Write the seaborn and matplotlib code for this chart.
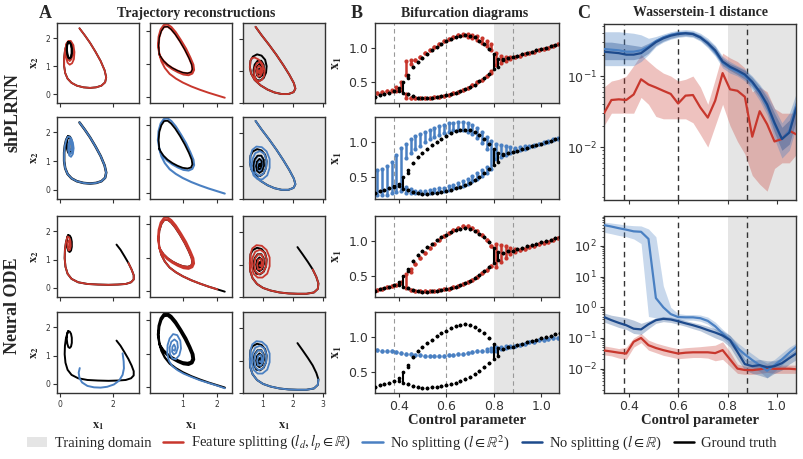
import numpy as np
import pandas as pd
import seaborn as sns
import matplotlib
matplotlib.use("Agg")
import matplotlib.pyplot as plt
from matplotlib.patches import Patch
from matplotlib.lines import Line2D

# -----------------------------
# colours / fonts
# -----------------------------
RED = "#c8372d"
BLUE = "#4a80c2"
NAVY = "#1d4a8c"
GT = "black"
SHADE = "#e5e5e5"
SERIF = "Liberation Serif"

# -----------------------------
# Panel A: trajectories (x1, x2)
# -----------------------------
# column 1 (small limit cycle)
gt_c1_a_x = [0.75, 0.95, 1.15, 1.35, 1.55, 1.70, 1.76, 1.72, 1.58, 1.38, 1.15, 0.90, 0.65, 0.45, 0.30, 0.21, 0.17, 0.17, 0.20, 0.25, 0.32]
gt_c1_a_y = [2.35, 2.10, 1.83, 1.52, 1.18, 0.85, 0.60, 0.42, 0.30, 0.24, 0.22, 0.24, 0.30, 0.40, 0.55, 0.75, 1.00, 1.30, 1.55, 1.75, 1.86]
gt_c1_b_x = [2.15, 2.30, 2.45, 2.60, 2.72, 2.80, 2.80, 2.70, 2.50, 2.20, 1.85, 1.45, 1.05, 0.70, 0.45, 0.30, 0.22, 0.19, 0.20, 0.24, 0.30]
gt_c1_b_y = [1.53, 1.35, 1.12, 0.88, 0.65, 0.45, 0.30, 0.20, 0.14, 0.12, 0.11, 0.12, 0.14, 0.20, 0.32, 0.50, 0.75, 1.05, 1.35, 1.62, 1.82]
gt_c1_cyc_x = [0.32, 0.38, 0.43, 0.46, 0.46, 0.43, 0.38, 0.33, 0.29, 0.27, 0.28, 0.32]
gt_c1_cyc_y = [1.86, 1.85, 1.77, 1.63, 1.45, 1.32, 1.27, 1.30, 1.42, 1.58, 1.75, 1.86]
red_c1_loops_x = [0.32, 0.42, 0.52, 0.56, 0.54, 0.47, 0.38, 0.30, 0.24, 0.22, 0.25, 0.33, 0.42, 0.49, 0.50, 0.45, 0.38, 0.31, 0.27, 0.27, 0.31]
red_c1_loops_y = [1.86, 1.90, 1.75, 1.50, 1.25, 1.10, 1.05, 1.12, 1.30, 1.55, 1.80, 1.90, 1.86, 1.70, 1.45, 1.25, 1.18, 1.25, 1.45, 1.68, 1.84]
blue_c1_spiral_x = [0.32, 0.42, 0.50, 0.53, 0.50, 0.43, 0.36, 0.32, 0.33, 0.39, 0.46, 0.49, 0.46, 0.40, 0.36, 0.37, 0.42, 0.46, 0.45, 0.41]
blue_c1_spiral_y = [1.86, 1.82, 1.65, 1.45, 1.25, 1.15, 1.20, 1.38, 1.60, 1.75, 1.68, 1.48, 1.30, 1.25, 1.35, 1.55, 1.65, 1.55, 1.40, 1.38]
red_c1_small_x = [0.30, 0.36, 0.41, 0.42, 0.39, 0.34, 0.31, 0.31, 0.35, 0.39, 0.38, 0.35]
red_c1_small_y = [1.82, 1.78, 1.65, 1.48, 1.35, 1.32, 1.42, 1.60, 1.68, 1.58, 1.45, 1.43]
blue_c1_arc_x = [0.76, 0.72, 0.75, 0.85, 1.05, 1.30, 1.55, 1.80, 2.05, 2.25, 2.38, 2.43, 2.42, 2.38]
blue_c1_arc_y = [0.56, 0.40, 0.20, 0.05, -0.07, -0.12, -0.13, -0.10, -0.02, 0.12, 0.32, 0.55, 0.80, 1.08]

# column 2 (large limit cycle)
gt_c2_a_x = [2.22, 2.00, 1.75, 1.50, 1.25, 1.00, 0.80, 0.62, 0.48, 0.38, 0.32]
gt_c2_a_y = [-0.02, 0.05, 0.13, 0.22, 0.32, 0.44, 0.56, 0.70, 0.88, 1.08, 1.30]
gt_c2_cyc_x = [0.32, 0.30, 0.32, 0.38, 0.46, 0.56, 0.66, 0.78, 0.92, 1.06, 1.18, 1.26, 1.28, 1.24, 1.14, 1.00, 0.85, 0.70, 0.56, 0.44, 0.36, 0.32]
gt_c2_cyc_y = [1.30, 1.55, 1.80, 2.00, 2.12, 2.13, 2.05, 1.90, 1.68, 1.43, 1.18, 0.98, 0.84, 0.75, 0.72, 0.74, 0.80, 0.88, 0.98, 1.10, 1.22, 1.30]
model_c2_loop_x = [0.32, 0.28, 0.30, 0.36, 0.45, 0.56, 0.67, 0.80, 0.95, 1.10, 1.22, 1.31, 1.33, 1.28, 1.17, 1.02, 0.86, 0.70, 0.55, 0.43, 0.35, 0.32]
model_c2_loop_y = [1.30, 1.56, 1.83, 2.05, 2.18, 2.20, 2.12, 1.96, 1.72, 1.46, 1.20, 0.98, 0.82, 0.71, 0.66, 0.68, 0.75, 0.84, 0.95, 1.08, 1.21, 1.30]
blue_c2_spiral_x = [2.22, 2.00, 1.75, 1.50, 1.25, 1.02, 0.85, 0.70, 0.60, 0.55, 0.56, 0.62, 0.72, 0.84, 0.93, 0.95, 0.90,
                    0.80, 0.70, 0.63, 0.62, 0.67, 0.76, 0.84, 0.86, 0.81, 0.74, 0.69, 0.70, 0.75, 0.79, 0.77, 0.73]
blue_c2_spiral_y = [-0.04, 0.04, 0.12, 0.20, 0.30, 0.40, 0.50, 0.62, 0.78, 1.00, 1.25, 1.45, 1.58, 1.55, 1.38, 1.15, 0.95,
                    0.83, 0.85, 0.98, 1.18, 1.35, 1.42, 1.35, 1.18, 1.02, 0.97, 1.05, 1.20, 1.27, 1.18, 1.08, 1.10]

# column 3 (stable spiral, training domain)
gt_c3_a_x = [0.75, 0.95, 1.20, 1.45, 1.68, 1.88, 2.03, 2.08, 2.02, 1.85, 1.62, 1.38, 1.15, 0.92, 0.72, 0.60, 0.56, 0.58]
gt_c3_a_y = [2.38, 2.12, 1.82, 1.50, 1.18, 0.88, 0.62, 0.45, 0.34, 0.28, 0.28, 0.33, 0.42, 0.55, 0.72, 0.92, 1.12, 1.32]
gt_c3_b_x = [2.15, 2.32, 2.50, 2.66, 2.78, 2.85, 2.83, 2.70, 2.45, 2.15, 1.85, 1.55, 1.25, 1.00, 0.80, 0.65, 0.57, 0.56, 0.58]
gt_c3_b_y = [1.54, 1.32, 1.08, 0.85, 0.62, 0.42, 0.25, 0.14, 0.10, 0.10, 0.11, 0.14, 0.20, 0.28, 0.40, 0.58, 0.80, 1.05, 1.32]
gt_c3_sp_x = [0.58, 0.66, 0.80, 0.95, 1.07, 1.12, 1.10, 1.02, 0.90, 0.78, 0.70, 0.68, 0.72, 0.82, 0.94, 1.02,
              1.03, 0.97, 0.88, 0.80, 0.77, 0.80, 0.88, 0.95, 0.96, 0.92, 0.86, 0.84, 0.87, 0.91, 0.91, 0.89]
gt_c3_sp_y = [1.32, 1.45, 1.52, 1.48, 1.35, 1.15, 0.95, 0.78, 0.70, 0.72, 0.85, 1.02, 1.20, 1.32, 1.32, 1.20,
              1.02, 0.86, 0.80, 0.86, 1.00, 1.14, 1.22, 1.16, 1.04, 0.93, 0.90, 0.97, 1.07, 1.08, 1.01, 0.99]
red_c3_sp_x = [0.58, 0.62, 0.72, 0.85, 0.98, 1.05, 1.04, 0.96, 0.85, 0.75, 0.70, 0.72, 0.80, 0.91,
               0.98, 0.98, 0.92, 0.84, 0.79, 0.80, 0.86, 0.92, 0.93, 0.89, 0.85, 0.86, 0.89]
red_c3_sp_y = [1.32, 1.40, 1.42, 1.36, 1.22, 1.02, 0.85, 0.72, 0.68, 0.74, 0.90, 1.10, 1.25, 1.28,
               1.15, 0.98, 0.85, 0.82, 0.92, 1.08, 1.17, 1.10, 0.98, 0.91, 0.95, 1.03, 1.00]
wide_c3_sp_x = [0.58, 0.64, 0.78, 0.96, 1.12, 1.22, 1.22, 1.14, 0.98, 0.82, 0.68, 0.62, 0.64, 0.74, 0.90, 1.04, 1.12, 1.10,
                1.00, 0.86, 0.74, 0.70, 0.74, 0.84, 0.96, 1.02, 1.00, 0.92, 0.83, 0.80, 0.84, 0.92, 0.96, 0.93, 0.88]
wide_c3_sp_y = [1.32, 1.50, 1.60, 1.58, 1.45, 1.22, 0.95, 0.72, 0.60, 0.60, 0.72, 0.95, 1.20, 1.40, 1.46, 1.38, 1.18, 0.94,
                0.76, 0.70, 0.80, 1.00, 1.20, 1.32, 1.30, 1.15, 0.96, 0.84, 0.86, 1.00, 1.15, 1.18, 1.06, 0.95, 0.98]

# -----------------------------
# Panel B: bifurcation diagrams, (control parameter, min x1, max x1)
# -----------------------------
gt_bif = [(0.30, 0.28, 0.28), (0.32, 0.30, 0.30), (0.34, 0.32, 0.32), (0.36, 0.34, 0.34), (0.38, 0.36, 0.37),
          (0.40, 0.37, 0.41), (0.42, 0.33, 0.50),
          (0.44, 0.56, 0.60), (0.46, 0.71, 0.71), (0.48, 0.79, 0.79), (0.50, 0.85, 0.85), (0.52, 0.91, 0.91),
          (0.54, 0.96, 0.96), (0.56, 1.01, 1.01), (0.58, 1.05, 1.05), (0.60, 1.09, 1.09), (0.62, 1.13, 1.13),
          (0.64, 1.16, 1.16), (0.66, 1.17, 1.17), (0.68, 1.18, 1.18), (0.70, 1.17, 1.17), (0.72, 1.15, 1.15),
          (0.74, 1.10, 1.10), (0.76, 1.05, 1.05), (0.78, 0.98, 0.98),
          (0.44, 0.32, 0.32), (0.46, 0.29, 0.29), (0.48, 0.27, 0.27), (0.50, 0.26, 0.26), (0.52, 0.26, 0.26),
          (0.54, 0.27, 0.27), (0.56, 0.28, 0.28), (0.58, 0.29, 0.29), (0.60, 0.30, 0.30), (0.62, 0.32, 0.32),
          (0.64, 0.34, 0.34), (0.66, 0.36, 0.36), (0.68, 0.39, 0.39), (0.70, 0.42, 0.42), (0.72, 0.46, 0.46),
          (0.74, 0.51, 0.51), (0.76, 0.56, 0.56), (0.78, 0.62, 0.62),
          (0.80, 0.68, 0.90), (0.82, 0.72, 0.84), (0.84, 0.82, 0.83), (0.86, 0.85, 0.85), (0.88, 0.86, 0.86),
          (0.90, 0.88, 0.88), (0.92, 0.90, 0.90), (0.94, 0.92, 0.92), (0.96, 0.94, 0.94), (0.98, 0.96, 0.96),
          (1.00, 0.98, 0.98), (1.02, 1.00, 1.00), (1.04, 1.02, 1.02), (1.06, 1.04, 1.04), (1.08, 1.06, 1.06)]

red1_bif = [(0.31, 0.34, 0.34), (0.33, 0.35, 0.35), (0.35, 0.36, 0.36), (0.37, 0.37, 0.38), (0.39, 0.36, 0.42),
            (0.41, 0.38, 0.50),
            (0.43, 0.60, 0.80), (0.45, 0.76, 0.82), (0.47, 0.82, 0.82), (0.49, 0.87, 0.87), (0.51, 0.92, 0.92),
            (0.53, 0.96, 0.96), (0.55, 1.01, 1.01), (0.57, 1.05, 1.05), (0.59, 1.09, 1.09), (0.61, 1.12, 1.12),
            (0.63, 1.16, 1.16), (0.65, 1.18, 1.18), (0.67, 1.19, 1.20), (0.69, 1.16, 1.20), (0.71, 1.14, 1.19),
            (0.73, 1.11, 1.17), (0.75, 1.07, 1.14), (0.77, 1.02, 1.10), (0.79, 0.97, 1.05),
            (0.43, 0.26, 0.32), (0.45, 0.27, 0.27), (0.47, 0.27, 0.27), (0.49, 0.27, 0.27), (0.51, 0.27, 0.27),
            (0.53, 0.27, 0.27), (0.55, 0.28, 0.28), (0.57, 0.28, 0.28), (0.59, 0.29, 0.29), (0.61, 0.31, 0.31),
            (0.63, 0.33, 0.33), (0.65, 0.35, 0.35), (0.67, 0.38, 0.38), (0.69, 0.41, 0.41), (0.71, 0.45, 0.45),
            (0.73, 0.49, 0.49), (0.75, 0.53, 0.53), (0.77, 0.58, 0.58), (0.79, 0.63, 0.66),
            (0.81, 0.74, 0.92), (0.83, 0.78, 0.88), (0.85, 0.81, 0.87), (0.87, 0.84, 0.86), (0.89, 0.86, 0.86),
            (0.91, 0.88, 0.88), (0.93, 0.90, 0.90), (0.95, 0.92, 0.92), (0.97, 0.94, 0.94), (0.99, 0.96, 0.96),
            (1.01, 0.98, 0.98), (1.03, 1.00, 1.00), (1.05, 1.02, 1.02), (1.07, 1.05, 1.05)]

blue2_bif = [(0.31, 0.24, 0.60), (0.33, 0.24, 0.62), (0.35, 0.24, 0.66), (0.37, 0.27, 0.72), (0.39, 0.29, 0.82),
             (0.41, 0.31, 0.92),
             (0.43, 0.78, 0.98), (0.45, 0.84, 1.04), (0.47, 0.90, 1.09), (0.49, 0.95, 1.12), (0.51, 1.00, 1.15),
             (0.53, 1.04, 1.18), (0.55, 1.07, 1.21), (0.57, 1.10, 1.23), (0.59, 1.13, 1.25), (0.61, 1.15, 1.27),
             (0.63, 1.17, 1.28), (0.65, 1.18, 1.29), (0.67, 1.17, 1.29), (0.69, 1.15, 1.27), (0.71, 1.12, 1.24),
             (0.73, 1.06, 1.20), (0.75, 0.99, 1.15), (0.77, 0.90, 1.08), (0.79, 0.62, 1.02),
             (0.43, 0.27, 0.36), (0.45, 0.27, 0.33), (0.47, 0.27, 0.31), (0.49, 0.27, 0.30), (0.51, 0.27, 0.31),
             (0.53, 0.28, 0.32), (0.55, 0.29, 0.33), (0.57, 0.30, 0.34), (0.59, 0.31, 0.35), (0.61, 0.32, 0.37),
             (0.63, 0.34, 0.39), (0.65, 0.36, 0.42), (0.67, 0.38, 0.45), (0.69, 0.41, 0.48), (0.71, 0.44, 0.52),
             (0.73, 0.48, 0.56), (0.75, 0.52, 0.60), (0.77, 0.56, 0.64),
             (0.81, 0.76, 0.98), (0.83, 0.79, 0.96), (0.85, 0.82, 0.94), (0.87, 0.85, 0.93), (0.89, 0.87, 0.92),
             (0.91, 0.89, 0.93), (0.93, 0.91, 0.94), (0.95, 0.93, 0.95), (0.97, 0.95, 0.96), (0.99, 0.97, 0.98),
             (1.01, 0.99, 1.00), (1.03, 1.01, 1.02), (1.05, 1.03, 1.04), (1.07, 1.05, 1.06)]

red3_bif = [(0.31, 0.29, 0.29), (0.33, 0.31, 0.31), (0.35, 0.33, 0.33), (0.37, 0.35, 0.35), (0.39, 0.37, 0.37),
            (0.41, 0.39, 0.40), (0.43, 0.32, 0.52),
            (0.45, 0.55, 0.60), (0.47, 0.66, 0.66), (0.49, 0.75, 0.75), (0.51, 0.83, 0.83), (0.53, 0.90, 0.90),
            (0.55, 0.96, 0.96), (0.57, 1.02, 1.02), (0.59, 1.07, 1.07), (0.61, 1.12, 1.12), (0.63, 1.16, 1.16),
            (0.65, 1.19, 1.19), (0.67, 1.21, 1.21), (0.69, 1.21, 1.21), (0.71, 1.19, 1.19), (0.73, 1.14, 1.14),
            (0.75, 1.08, 1.08), (0.77, 1.01, 1.01), (0.79, 0.93, 0.93),
            (0.45, 0.29, 0.29), (0.47, 0.27, 0.27), (0.49, 0.27, 0.27), (0.51, 0.27, 0.27), (0.53, 0.27, 0.27),
            (0.55, 0.28, 0.28), (0.57, 0.29, 0.29), (0.59, 0.30, 0.30), (0.61, 0.31, 0.31), (0.63, 0.33, 0.33),
            (0.65, 0.35, 0.35), (0.67, 0.38, 0.38), (0.69, 0.41, 0.41), (0.71, 0.44, 0.44), (0.73, 0.48, 0.48),
            (0.75, 0.53, 0.53), (0.77, 0.58, 0.58), (0.79, 0.64, 0.64),
            (0.81, 0.62, 0.96), (0.83, 0.70, 0.94), (0.85, 0.76, 0.92), (0.87, 0.81, 0.90), (0.89, 0.84, 0.88),
            (0.91, 0.87, 0.87), (0.93, 0.89, 0.89), (0.95, 0.91, 0.91), (0.97, 0.93, 0.93), (0.99, 0.95, 0.95),
            (1.01, 0.97, 0.97), (1.03, 0.99, 0.99), (1.05, 1.01, 1.01), (1.07, 1.04, 1.04)]

blue4_bif = [(0.31, 0.81, 0.81), (0.33, 0.80, 0.80), (0.35, 0.80, 0.80), (0.37, 0.79, 0.79), (0.39, 0.78, 0.78),
             (0.41, 0.77, 0.77), (0.43, 0.76, 0.76), (0.45, 0.75, 0.75), (0.47, 0.74, 0.74), (0.49, 0.74, 0.74),
             (0.51, 0.73, 0.73), (0.53, 0.73, 0.73), (0.55, 0.73, 0.73), (0.57, 0.73, 0.73), (0.59, 0.73, 0.73),
             (0.61, 0.74, 0.74), (0.63, 0.74, 0.74), (0.65, 0.75, 0.75), (0.67, 0.76, 0.76), (0.69, 0.77, 0.77),
             (0.71, 0.78, 0.78), (0.73, 0.79, 0.79), (0.75, 0.80, 0.80), (0.77, 0.79, 0.82), (0.79, 0.79, 0.84),
             (0.81, 0.80, 0.85), (0.83, 0.82, 0.86), (0.85, 0.84, 0.87), (0.87, 0.86, 0.87), (0.89, 0.87, 0.87),
             (0.91, 0.89, 0.89), (0.93, 0.90, 0.90), (0.95, 0.92, 0.92), (0.97, 0.93, 0.93), (0.99, 0.95, 0.95),
             (1.01, 0.96, 0.96), (1.03, 0.97, 0.97), (1.05, 0.98, 0.98), (1.07, 0.99, 0.99)]

# -----------------------------
# Panel C: Wasserstein-1 distance (median and band)
# -----------------------------
c_p = [0.30, 0.33, 0.36, 0.39, 0.42, 0.45, 0.48, 0.51, 0.54, 0.57, 0.60, 0.63, 0.66, 0.69,
       0.72, 0.75, 0.78, 0.81, 0.84, 0.87, 0.90, 0.93, 0.96, 0.99, 1.02, 1.05, 1.08]

# shPLRNN
sh_red = [0.030, 0.046, 0.047, 0.046, 0.055, 0.090, 0.076, 0.069, 0.062, 0.056, 0.041, 0.053, 0.054, 0.036,
          0.026, 0.045, 0.11, 0.065, 0.062, 0.051, 0.014, 0.032, 0.021, 0.012, 0.013, 0.017, 0.015]
sh_red_lo = [0.02, 0.03, 0.03, 0.03, 0.03, 0.05, 0.04, 0.027, 0.025, 0.025, 0.025, 0.025, 0.022, 0.015,
             0.01, 0.02, 0.04, 0.02, 0.012, 0.008, 0.004, 0.003, 0.0024, 0.005, 0.006, 0.006, 0.008]
sh_red_hi = [0.07, 0.085, 0.09, 0.10, 0.14, 0.20, 0.16, 0.13, 0.11, 0.10, 0.085, 0.09, 0.10, 0.07,
             0.04, 0.09, 0.21, 0.18, 0.16, 0.13, 0.06, 0.07, 0.06, 0.035, 0.03, 0.03, 0.03]
sh_blue = [0.24, 0.235, 0.23, 0.22, 0.22, 0.23, 0.26, 0.31, 0.35, 0.38, 0.40, 0.40, 0.39, 0.35,
           0.29, 0.22, 0.155, 0.13, 0.115, 0.10, 0.08, 0.058, 0.038, 0.021, 0.013, 0.017, 0.04]
sh_blue_lo = [0.14, 0.14, 0.14, 0.14, 0.14, 0.16, 0.20, 0.26, 0.30, 0.33, 0.35, 0.36, 0.35, 0.31,
              0.25, 0.19, 0.13, 0.11, 0.10, 0.085, 0.065, 0.045, 0.028, 0.013, 0.007, 0.009, 0.02]
sh_blue_hi = [0.42, 0.42, 0.42, 0.41, 0.40, 0.38, 0.34, 0.36, 0.39, 0.42, 0.44, 0.45, 0.44, 0.40,
              0.34, 0.27, 0.19, 0.16, 0.14, 0.125, 0.10, 0.076, 0.055, 0.035, 0.022, 0.03, 0.06]
sh_navy = [0.22, 0.215, 0.21, 0.20, 0.20, 0.21, 0.25, 0.30, 0.34, 0.37, 0.39, 0.40, 0.39, 0.35,
           0.29, 0.23, 0.16, 0.135, 0.12, 0.105, 0.083, 0.06, 0.04, 0.022, 0.013, 0.016, 0.037]
sh_navy_lo = [0.17, 0.17, 0.17, 0.17, 0.17, 0.18, 0.21, 0.27, 0.31, 0.34, 0.36, 0.37, 0.36, 0.32,
              0.26, 0.20, 0.14, 0.12, 0.105, 0.09, 0.07, 0.05, 0.032, 0.016, 0.009, 0.011, 0.025]
sh_navy_hi = [0.30, 0.30, 0.29, 0.28, 0.27, 0.26, 0.29, 0.33, 0.37, 0.40, 0.42, 0.43, 0.42, 0.38,
              0.32, 0.26, 0.18, 0.15, 0.135, 0.12, 0.096, 0.072, 0.05, 0.03, 0.019, 0.024, 0.05]

# Neural ODE
ode_red = [0.039, 0.036, 0.033, 0.031, 0.075, 0.10, 0.058, 0.047, 0.04, 0.035, 0.031, 0.033, 0.034, 0.034,
           0.034, 0.032, 0.04, 0.02, 0.01, 0.009, 0.0089, 0.0095, 0.0104, 0.0098, 0.0099, 0.0099, 0.0095]
ode_red_lo = [0.028, 0.026, 0.022, 0.02, 0.05, 0.07, 0.04, 0.033, 0.027, 0.024, 0.021, 0.022, 0.023, 0.023,
              0.022, 0.018, 0.02, 0.012, 0.007, 0.0065, 0.0065, 0.007, 0.0075, 0.007, 0.007, 0.007, 0.007]
ode_red_hi = [0.055, 0.05, 0.045, 0.05, 0.1, 0.14, 0.085, 0.068, 0.058, 0.05, 0.045, 0.048, 0.05, 0.052,
              0.055, 0.058, 0.075, 0.035, 0.014, 0.012, 0.012, 0.013, 0.014, 0.013, 0.013, 0.013, 0.013]
ode_blue = [480, 430, 380, 340, 300, 290, 170, 2.0, 1.0, 0.6, 0.48, 0.47, 0.47, 0.44,
            0.36, 0.24, 0.14, 0.085, 0.047, 0.029, 0.019, 0.013, 0.0085, 0.013, 0.02, 0.033, 0.053]
ode_blue_lo = [280, 250, 220, 200, 170, 120, 0.5, 0.45, 0.42, 0.40, 0.38, 0.38, 0.38, 0.35,
               0.28, 0.18, 0.1, 0.06, 0.032, 0.018, 0.011, 0.008, 0.005, 0.008, 0.013, 0.022, 0.035]
ode_blue_hi = [600, 560, 520, 480, 460, 450, 360, 200, 5, 1.0, 0.62, 0.58, 0.58, 0.56,
               0.48, 0.33, 0.19, 0.12, 0.07, 0.045, 0.03, 0.02, 0.015, 0.02, 0.032, 0.05, 0.07]
ode_navy = [0.48, 0.38, 0.31, 0.26, 0.2, 0.19, 0.28, 0.38, 0.42, 0.40, 0.35, 0.30, 0.26, 0.22,
            0.18, 0.15, 0.12, 0.085, 0.035, 0.014, 0.012, 0.013, 0.011, 0.012, 0.015, 0.022, 0.032]
ode_navy_lo = [0.33, 0.27, 0.22, 0.19, 0.14, 0.13, 0.2, 0.3, 0.34, 0.32, 0.28, 0.24, 0.2, 0.17,
               0.13, 0.1, 0.08, 0.05, 0.02, 0.009, 0.007, 0.006, 0.005, 0.007, 0.009, 0.014, 0.02]
ode_navy_hi = [0.65, 0.55, 0.5, 0.45, 0.38, 0.3, 0.36, 0.45, 0.5, 0.48, 0.43, 0.37, 0.32, 0.28,
               0.24, 0.2, 0.17, 0.12, 0.06, 0.02, 0.018, 0.02, 0.018, 0.018, 0.022, 0.03, 0.045]

param_marks = [0.38, 0.6, 0.88]
train_start = 0.8

# -----------------------------
# Figure setup
# -----------------------------
sns.set_style("ticks")
plt.rcParams["font.family"] = ["DejaVu Sans"]
plt.rcParams["mathtext.fontset"] = "stix"

W, H = 804, 459
fig = plt.figure(figsize=(W / 100, H / 100), dpi=100)


def box(x0, y0, x1, y1):
    return [x0 / W, 1 - y1 / H, (x1 - x0) / W, (y1 - y0) / H]


def style(ax, fs):
    for s in ax.spines.values():
        s.set_color("#333333")
        s.set_linewidth(1.0)
    ax.tick_params(colors="#333333", labelsize=fs, length=3, width=0.8, pad=2)


rows_y = [(23, 103), (117, 199), (216, 297), (312, 393)]
a_cols = [(57, 139), (150, 232), (243, 325)]
a_xlim = [(-0.1, 3.0), (0.05, 2.43), (0.33, 3.07)]
a_ylim = [(-0.32, 2.54), (-0.18, 2.24), (0.0, 2.5)]
a_xticks = [[0, 2], [1, 2], [1, 2, 3]]

# what goes in each trajectory panel: (x, y, colour, linewidth), drawn in order
panels = {
    (0, 0): [(gt_c1_a_x + gt_c1_cyc_x, gt_c1_a_y + gt_c1_cyc_y, GT, 1.3),
             (gt_c1_a_x + red_c1_loops_x, gt_c1_a_y + red_c1_loops_y, RED, 1.3),
             (gt_c1_cyc_x, gt_c1_cyc_y, GT, 1.6)],
    (0, 1): [(gt_c2_a_x + model_c2_loop_x + gt_c2_cyc_x, gt_c2_a_y + model_c2_loop_y + gt_c2_cyc_y, RED, 1.4),
             (gt_c2_cyc_x, gt_c2_cyc_y, GT, 0.9)],
    (0, 2): [(gt_c3_a_x + gt_c3_sp_x, gt_c3_a_y + gt_c3_sp_y, GT, 1.4),
             (gt_c3_a_x + red_c3_sp_x, gt_c3_a_y + red_c3_sp_y, RED, 1.3)],
    (1, 0): [(gt_c1_a_x + gt_c1_cyc_x, gt_c1_a_y + gt_c1_cyc_y, GT, 1.8),
             (gt_c1_a_x + blue_c1_spiral_x, gt_c1_a_y + blue_c1_spiral_y, BLUE, 1.3)],
    (1, 1): [(gt_c2_a_x + model_c2_loop_x, gt_c2_a_y + model_c2_loop_y, BLUE, 1.5),
             (gt_c2_cyc_x, gt_c2_cyc_y, GT, 1.3)],
    (1, 2): [(gt_c3_a_x + gt_c3_sp_x, gt_c3_a_y + gt_c3_sp_y, GT, 1.4),
             (gt_c3_a_x + wide_c3_sp_x, gt_c3_a_y + wide_c3_sp_y, BLUE, 1.3),
             (gt_c3_sp_x[10:], gt_c3_sp_y[10:], GT, 1.0)],
    (2, 0): [(gt_c1_b_x + gt_c1_cyc_x, gt_c1_b_y + gt_c1_cyc_y, GT, 1.4),
             (gt_c1_b_x[3:] + red_c1_small_x, gt_c1_b_y[3:] + red_c1_small_y, RED, 1.3)],
    (2, 1): [(gt_c2_a_x + gt_c2_cyc_x, gt_c2_a_y + gt_c2_cyc_y, GT, 1.4),
             (gt_c2_a_x[1:] + model_c2_loop_x + gt_c2_cyc_x, gt_c2_a_y[1:] + model_c2_loop_y + gt_c2_cyc_y, RED, 1.4)],
    (2, 2): [(gt_c3_b_x + gt_c3_sp_x, gt_c3_b_y + gt_c3_sp_y, GT, 1.4),
             (gt_c3_b_x[3:] + wide_c3_sp_x, gt_c3_b_y[3:] + wide_c3_sp_y, RED, 1.3)],
    (3, 0): [(gt_c1_b_x + gt_c1_cyc_x, gt_c1_b_y + gt_c1_cyc_y, GT, 1.4),
             (blue_c1_arc_x, blue_c1_arc_y, BLUE, 1.4)],
    (3, 1): [(gt_c2_a_x + gt_c2_cyc_x + model_c2_loop_x, gt_c2_a_y + gt_c2_cyc_y + model_c2_loop_y, GT, 1.6),
             (blue_c2_spiral_x, blue_c2_spiral_y, BLUE, 1.3)],
    (3, 2): [(gt_c3_b_x + gt_c3_sp_x, gt_c3_b_y + gt_c3_sp_y, GT, 1.4),
             (gt_c3_b_x[5:] + wide_c3_sp_x, gt_c3_b_y[5:] + wide_c3_sp_y, BLUE, 1.3)],
}

# -----------------------------
# Panel A
# -----------------------------
for r, (y0, y1) in enumerate(rows_y):
    for c, (x0, x1) in enumerate(a_cols):
        ax = fig.add_axes(box(x0, y0, x1, y1))
        if c == 2:
            ax.set_facecolor(SHADE)
        for xs, ys, col, lw in panels[(r, c)]:
            ax.plot(xs, ys, color=col, lw=lw, solid_capstyle="round", solid_joinstyle="round")
        ax.set_xlim(a_xlim[c])
        ax.set_ylim(a_ylim[c])
        ax.set_xticks(a_xticks[c])
        ax.set_yticks([0, 1, 2])
        style(ax, 5.5)
        if c > 0:
            ax.set_yticklabels([])
        else:
            ax.set_ylabel(r"$\mathbf{x_2}$", fontsize=9, labelpad=3)
        if r < 3:
            ax.set_xticklabels([])
        else:
            ax.set_xlabel(r"$\mathbf{x_1}$", fontsize=9, labelpad=7)


# -----------------------------
# Panel B
# -----------------------------
def draw_bif(ax, data, color, s, lw, z):
    df = pd.DataFrame(data, columns=["p", "lo", "hi"])
    bars = df[df.hi > df.lo]
    lc = ax.vlines(bars.p, bars.lo, bars.hi, color=color, lw=lw, zorder=z)
    lc.set_capstyle("round")
    pts = pd.concat([df[["p", "lo"]].rename(columns={"lo": "v"}),
                     df[["p", "hi"]].rename(columns={"hi": "v"})])
    sns.scatterplot(data=pts, x="p", y="v", ax=ax, color=color, s=s, linewidth=0,
                    legend=False, zorder=z)


models_b = [(red1_bif, RED), (blue2_bif, BLUE), (red3_bif, RED), (blue4_bif, BLUE)]
for r, (y0, y1) in enumerate(rows_y):
    ax = fig.add_axes(box(375, y0, 559, y1))
    ax.axvspan(train_start, 1.2, color=SHADE, lw=0, zorder=0)
    for pm in param_marks:
        ax.axvline(pm, color="#999999", lw=0.8, ls=(0, (4, 3)), zorder=1)
    data, col = models_b[r]
    draw_bif(ax, data, col, 9, 1.8, 2)
    draw_bif(ax, gt_bif, GT, 7, 1.5, 3)
    ax.set_xlim(0.3, 1.075)
    ax.set_ylim(0.19, 1.36)
    ax.set_xticks([0.4, 0.6, 0.8, 1.0])
    ax.set_yticks([0.5, 1.0])
    style(ax, 9)
    ax.set_ylabel(r"$\mathbf{x_1}$", fontsize=10, labelpad=3)
    if r < 3:
        ax.set_xticklabels([])
        ax.set_xlabel("")
    else:
        ax.set_xlabel("Control parameter", fontfamily=SERIF, fontweight="bold", fontsize=10.5, labelpad=1)

# -----------------------------
# Panel C
# -----------------------------
c_sets = [
    ((604, 24, 796, 200), (0.0018, 0.54),
     [(sh_red, sh_red_lo, sh_red_hi, RED, 0.3), (sh_blue, sh_blue_lo, sh_blue_hi, BLUE, 0.35),
      (sh_navy, sh_navy_lo, sh_navy_hi, NAVY, 0.35)]),
    ((604, 216, 796, 393), (0.0016, 950),
     [(ode_red, ode_red_lo, ode_red_hi, RED, 0.3), (ode_blue, ode_blue_lo, ode_blue_hi, BLUE, 0.3),
      (ode_navy, ode_navy_lo, ode_navy_hi, NAVY, 0.3)]),
]
for i, (bx, ylim, series) in enumerate(c_sets):
    ax = fig.add_axes(box(*bx))
    ax.set_yscale("log")
    ax.axvspan(train_start, 1.2, color=SHADE, lw=0, zorder=0)
    for pm in param_marks:
        ax.axvline(pm, color="#333333", lw=1.0, ls=(0, (4, 3)), zorder=1)
    for mean, lo, hi, col, a in series:
        ax.fill_between(c_p, lo, hi, color=col, alpha=a, lw=0, zorder=2)
    for mean, lo, hi, col, a in series:
        sns.lineplot(x=c_p, y=mean, ax=ax, color=col, lw=1.6, zorder=3)
    ax.set_xlim(0.3, 1.077)
    ax.set_ylim(*ylim)
    ax.set_xticks([0.4, 0.6, 0.8, 1.0])
    style(ax, 9)
    ax.tick_params(which="minor", length=1.8, width=0.6, colors="#333333")
    if i == 0:
        ax.set_xticklabels([])
    else:
        ax.set_xticklabels(["0.4", "0.6", "0.8", "1.0"])
        ax.set_xlabel("Control parameter", fontfamily=SERIF, fontweight="bold", fontsize=10.5, labelpad=1)

# -----------------------------
# Titles, panel letters, row labels
# -----------------------------
def ftext(x, y, s, **kw):
    fig.text(x / W, 1 - y / H, s, ha="center", va="center", fontfamily=SERIF, fontweight="bold", **kw)


ftext(196, 13, "Trajectory reconstructions", fontsize=10)
ftext(465, 13, "Bifurcation diagrams", fontsize=10)
ftext(701, 13, "Wasserstein-1 distance", fontsize=10)
ftext(45, 13, "A", fontsize=13)
ftext(357, 13, "B", fontsize=13)
ftext(584, 13, "C", fontsize=13)
ftext(13, 113, "shPLRNN", fontsize=13, rotation=90)
ftext(13, 306, "Neural ODE", fontsize=13, rotation=90)

# -----------------------------
# Legend
# -----------------------------
handles = [Patch(facecolor=SHADE, edgecolor="none"),
           Line2D([], [], color=RED, lw=1.8),
           Line2D([], [], color=BLUE, lw=1.8),
           Line2D([], [], color=NAVY, lw=1.8),
           Line2D([], [], color=GT, lw=1.8)]
labels = ["Training domain",
          r"Feature splitting ($l_d, l_p \in \mathbb{R}$)",
          r"No splitting ($l \in \mathbb{R}^2$)",
          r"No splitting ($l \in \mathbb{R}$)",
          "Ground truth"]
fig.legend(handles, labels, loc="center", bbox_to_anchor=(0.5, 1 - 443 / H), ncol=5, frameon=False,
           prop={"family": SERIF, "size": 10.5}, handlelength=1.4, handletextpad=0.5, columnspacing=0.8)

fig.savefig("out.png", dpi=100)
